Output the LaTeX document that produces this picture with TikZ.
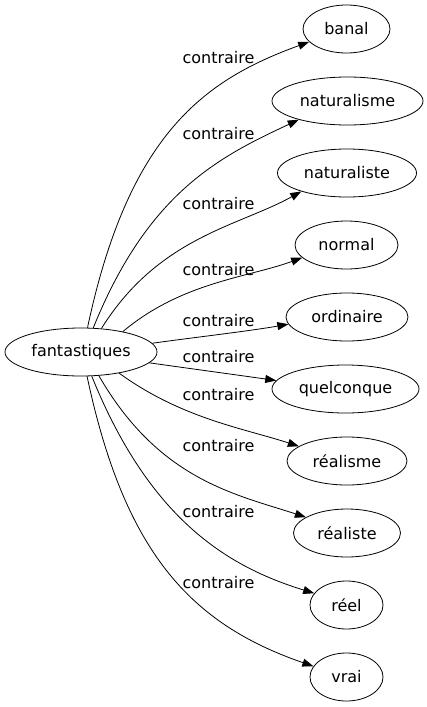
\documentclass[tikz,border=0pt]{standalone}
\usepackage{fontspec}
\setmainfont{DejaVu Sans}
\usepackage{tikz}
\usetikzlibrary{arrows.meta,shapes.geometric}

\begin{document}
\begin{tikzpicture}[
  x=1pt, y=1pt,
  word/.style={ellipse, draw, line width=0.8pt, inner sep=0pt, minimum height=48pt, font=\fontsize{16}{19}\selectfont},
  rel/.style={anchor=base, inner sep=0pt, font=\fontsize{16}{19}\selectfont},
  link/.style={-{Triangle[length=11pt, width=8pt]}, line width=0.8pt},
]
  \useasboundingbox (0,0) rectangle (427,-707);

  \node[word, minimum width=152pt] (fant) at (81,-352) {fantastiques};

  \node[word, minimum width=87pt] (banal) at (346.5,-29) {banal};
  \node[word, minimum width=151pt] (natme) at (347.5,-101) {naturalisme};
  \node[word, minimum width=139pt] (natte) at (347,-173) {naturaliste};
  \node[word, minimum width=103pt] (normal) at (346.5,-245) {normal};
  \node[word, minimum width=122pt] (ordin) at (347,-317) {ordinaire};
  \node[word, minimum width=147pt] (quelc) at (345.5,-389) {quelconque};
  \node[word, minimum width=120pt] (realme) at (347,-461) {réalisme};
  \node[word, minimum width=107pt] (realte) at (347,-533) {réaliste};
  \node[word, minimum width=73pt] (reel) at (346.5,-605) {réel};
  \node[word, minimum width=73pt] (vrai) at (346.5,-677) {vrai};

  \node[rel] (c1) at (218.5,-63.3) {contraire};
  \node[rel] (c2) at (218.5,-139.3) {contraire};
  \node[rel] (c3) at (218.5,-209.3) {contraire};
  \node[rel] (c4) at (218.5,-275) {contraire};
  \node[rel] (c5) at (218.5,-326.7) {contraire};
  \node[rel] (c6) at (218.5,-362.7) {contraire};
  \node[rel] (c7) at (218.5,-400) {contraire};
  \node[rel] (c8) at (218.5,-451.7) {contraire};
  \node[rel] (c9) at (218.5,-517.3) {contraire};
  \node[rel] (c10) at (218.5,-588.3) {contraire};

  \draw[link] (fant.75) .. controls +(78:200) and +(200:110) .. (banal.199);
  \draw[link] (fant.63) .. controls +(68:146) and +(205:88) .. (natme.201);
  \draw[link] (fant.49) .. controls +(58:108) and +(209:72) .. (natte.202);
  \draw[link] (fant.26) .. controls +(40:77) and +(200:58) .. (normal.196);
  \draw[link] (fant.7) .. controls +(8:40) and +(190:40) .. (ordin.187);
  \draw[link] (fant.-9) .. controls +(-8:40) and +(172:40) .. (quelc.173);
  \draw[link] (fant.-29) .. controls +(-36:77) and +(162:58) .. (realme.163);
  \draw[link] (fant.-53) .. controls +(-60:120) and +(162:75) .. (realte.159);
  \draw[link] (fant.-66) .. controls +(-68:153) and +(163:92) .. (reel.160);
  \draw[link] (fant.-76) .. controls +(-78:180) and +(161:130) .. (vrai.162);
\end{tikzpicture}
\end{document}
